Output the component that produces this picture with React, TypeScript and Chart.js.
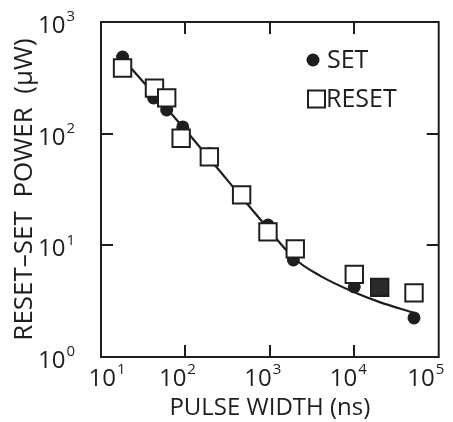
import React, { useEffect, useRef } from "react";
import { Chart, registerables } from "chart.js";

Chart.register(...registerables);

// ---- data ----
const setPulseNs = [18, 42, 60, 93, 195, 950, 1900, 10000, 20000, 51000];
const setPowerUW = [486, 209, 163, 115, 66, 15.2, 7.4, 4.25, 4.2, 2.24];

const resetPulseNs = [18, 43, 60, 89, 192, 463, 950, 2000, 10000, 20000, 51000];
const resetPowerUW = [387, 256, 209, 91, 62, 28.3, 13.2, 9.3, 5.5, 4.2, 3.75];

const fitPulseNs = [19, 100, 300, 800, 2000, 4000, 10000, 20000, 50000];
const fitPowerUW = [450, 108, 40, 16.5, 7.5, 5.3, 3.8, 3.1, 2.5];

const xTickValues = [10, 100, 1000, 10000, 100000];
const xTickExponents = ["1", "2", "3", "4", "5"];
const yTickValues = [1, 10, 100, 1000];
const yTickExponents = ["0", "1", "2", "3"];

const xTitle = "PULSE WIDTH (ns)";
const yTitle = "RESET\u2013SET  POWER  (\u03bcW)";
const legendLabels = ["SET", "RESET"];

// ---- style ----
const INK = "#1e1e1e";
const FONT = "'Open Sans', 'DejaVu Sans', sans-serif";
const xLabelNudge = [6, -8, -7, -6, -13];

const toPts = (xs: number[], ys: number[]) => xs.map((x, i) => ({ x, y: ys[i] }));

const decorations = {
  id: "decorations",
  afterDraw(chart: any) {
    const { ctx, chartArea: a, scales } = chart;
    const xs = scales.x;
    const ys = scales.y;
    ctx.save();
    ctx.strokeStyle = INK;
    ctx.fillStyle = INK;
    ctx.lineWidth = 2;
    // frame
    ctx.strokeRect(a.left, a.top, a.right - a.left, a.bottom - a.top);
    // inward ticks
    const tl = 12;
    ctx.beginPath();
    xTickValues.forEach((v, i) => {
      if (i === 0 || i === xTickValues.length - 1) return;
      const px = Math.round(xs.getPixelForValue(v));
      ctx.moveTo(px, a.bottom);
      ctx.lineTo(px, a.bottom - tl);
      ctx.moveTo(px, a.top);
      ctx.lineTo(px, a.top + tl);
    });
    yTickValues.forEach((v, i) => {
      if (i === 0 || i === yTickValues.length - 1) return;
      const py = Math.round(ys.getPixelForValue(v));
      ctx.moveTo(a.left, py);
      ctx.lineTo(a.left + tl, py);
      ctx.moveTo(a.right, py);
      ctx.lineTo(a.right - tl, py);
    });
    ctx.stroke();

    // tick labels 10^n
    const base = `24px ${FONT}`;
    const sup = `15px ${FONT}`;
    const drawPow = (x: number, yMid: number, exp: string, align: "center" | "right") => {
      ctx.font = base;
      const w1 = ctx.measureText("10").width;
      ctx.font = sup;
      const w2 = ctx.measureText(exp).width;
      const total = w1 + 1 + w2;
      const x0 = align === "center" ? x - total / 2 : x - total;
      ctx.textBaseline = "middle";
      ctx.textAlign = "left";
      ctx.font = base;
      ctx.fillText("10", x0, yMid);
      ctx.font = sup;
      ctx.fillText(exp, x0 + w1 + 1, yMid - 9);
    };
    xTickValues.forEach((v, i) => {
      const px = xs.getPixelForValue(v) + xLabelNudge[i];
      drawPow(px, a.bottom + 22, xTickExponents[i], "center");
    });
    yTickValues.forEach((v, i) => {
      const py = ys.getPixelForValue(v);
      drawPow(a.left - 26, py + 4, yTickExponents[i], "right");
    });

    // legend
    const lx = a.left + 206;
    const ly1 = a.top + 38;
    const ly2 = a.top + 77;
    ctx.beginPath();
    ctx.arc(lx + 6, ly1, 6.5, 0, Math.PI * 2);
    ctx.fill();
    ctx.fillStyle = "#ffffff";
    ctx.fillRect(lx + 1, ly2 - 8.5, 17, 17);
    ctx.lineWidth = 2;
    ctx.strokeRect(lx + 1, ly2 - 8.5, 17, 17);
    ctx.fillStyle = INK;
    ctx.font = `25px ${FONT}`;
    ctx.textBaseline = "middle";
    ctx.textAlign = "left";
    ctx.fillText(legendLabels[0], lx + 20, ly1 + 1);
    ctx.fillText(legendLabels[1], lx + 19, ly2 + 1);
    ctx.restore();
  },
};

export default function App() {
  const ref = useRef<HTMLCanvasElement | null>(null);

  useEffect(() => {
    if (!ref.current) return;
    const setPts = toPts(setPulseNs, setPowerUW);
    const resetPts = toPts(resetPulseNs, resetPowerUW);
    const overlapsSet = (p: { x: number; y: number }) =>
      setPts.some((s) => s.x === p.x && Math.abs(Math.log10(s.y / p.y)) < 0.02);

    const chart = new Chart(ref.current, {
      type: "scatter",
      data: {
        datasets: [
          {
            label: "fit",
            data: toPts(fitPulseNs, fitPowerUW),
            showLine: true,
            borderColor: INK,
            borderWidth: 2.2,
            pointRadius: 0,
            tension: 0.4,
            cubicInterpolationMode: "monotone",
            order: 3,
          },
          {
            label: legendLabels[0],
            data: setPts,
            pointStyle: "circle",
            pointRadius: 6.5,
            backgroundColor: INK,
            borderColor: INK,
            borderWidth: 0,
            order: 2,
          },
          {
            label: legendLabels[1],
            data: resetPts,
            pointStyle: "rect",
            pointRadius: 12.3,
            backgroundColor: (c: any) =>
              c.raw && overlapsSet(c.raw) ? "#2a2a2a" : "#ffffff",
            borderColor: INK,
            borderWidth: 2,
            order: 1,
          },
        ],
      },
      options: {
        responsive: true,
        maintainAspectRatio: false,
        animation: false,
        layout: { padding: { top: 22, right: 6, left: 0, bottom: 0 } },
        plugins: { legend: { display: false }, tooltip: { enabled: false } },
        scales: {
          x: {
            type: "logarithmic",
            min: 10,
            max: 100000,
            grid: { display: false },
            border: { display: false },
            ticks: { display: false },
            title: {
              display: true,
              text: xTitle,
              color: INK,
              font: { family: FONT, size: 24, lineHeight: 1 },
              padding: { top: 0, bottom: 2 },
            },
            afterFit: (s: any) => {
              s.height = 65;
            },
          },
          y: {
            type: "logarithmic",
            min: 1,
            max: 1000,
            grid: { display: false },
            border: { display: false },
            ticks: { display: false },
            title: {
              display: true,
              text: yTitle,
              color: INK,
              font: { family: FONT, size: 26, lineHeight: 1 },
              padding: { top: 12, bottom: 0 },
            },
            afterFit: (s: any) => {
              s.width = 101;
            },
          },
        },
      },
      plugins: [decorations],
    } as any);
    return () => chart.destroy();
  }, []);

  return (
    <div style={{ position: "fixed", left: 0, top: 0, width: 453, height: 422, background: "#fff" }}>
      <canvas ref={ref} />
    </div>
  );
}
